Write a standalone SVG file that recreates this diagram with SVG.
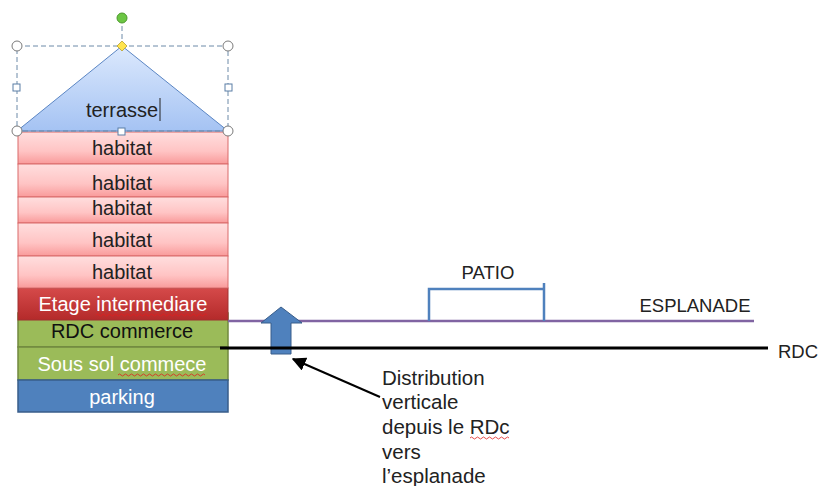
<svg xmlns="http://www.w3.org/2000/svg" width="818" height="486" viewBox="0 0 818 486">
<defs>
<linearGradient id="gTri" x1="0" y1="0" x2="0" y2="1"><stop offset="0" stop-color="#dce9fd"/><stop offset="1" stop-color="#a5c3f3"/></linearGradient>
<linearGradient id="gHab" x1="0" y1="0" x2="0" y2="1"><stop offset="0" stop-color="#ffdede"/><stop offset="0.6" stop-color="#ffc4c4"/><stop offset="1" stop-color="#f99a9a"/></linearGradient>
<linearGradient id="gEt" x1="0" y1="0" x2="0" y2="1"><stop offset="0" stop-color="#d54a4a"/><stop offset="1" stop-color="#b42a2a"/></linearGradient>
<marker id="ah" viewBox="0 0 10 10" refX="9" refY="5" markerWidth="7" markerHeight="7" orient="auto"><path d="M0,0 L10,5 L0,10 z" fill="#000"/></marker>
</defs>
<style>
text{font-family:"Liberation Sans",Arial,sans-serif;}
.lbl{font-size:20px;fill:#222;text-anchor:middle;}
.w{fill:#fff;}
.hab rect{fill:url(#gHab);stroke:#d96a6a;stroke-width:1;}
.grn rect{fill:#9bbb59;stroke:#71893f;stroke-width:1.5;}
.sel{fill:none;stroke:#6c8aa8;stroke-width:1;stroke-dasharray:5,3;}
.hc{fill:#fff;stroke:#7a7a7a;stroke-width:1;}
.hs{fill:#fff;stroke:#5b7ea6;stroke-width:1;}
.wavy{fill:none;stroke:#e02020;stroke-width:0.8;}
.note{font-size:20.5px;fill:#222;}
.cap{font-size:18.5px;fill:#222;}
</style>

<g id="rdc-commerce" class="grn"><rect x="18" y="313" width="210" height="34"/><text class="lbl" x="122" y="338" style="fill:#111">RDC commerce</text></g>
<g id="etage" ><rect x="18" y="288" width="210" height="32" fill="url(#gEt)" stroke="#a03030" stroke-width="1"/><text class="lbl w" x="123" y="311">Etage intermediare</text><path class="wavy" d="M96,315 q1.5,-2 3,0 t3,0 t3,0 t3,0 t3,0 t3,0 t3,0 t3,0 t3,0 t3,0 t3,0 t3,0 t3,0 t3,0 t3,0 t3,0 t3,0 t3,0 t3,0 t3,0 t3,0 t3,0 t3,0 t3,0 t3,0 t3,0 t3,0 t3,0 t3,0 t3,0 t3,0 t3,0 t3,0 t3,0 t3,0 t3,0 t3,0"/></g>
<g id="sous-sol" class="grn"><rect x="18" y="347" width="210" height="33"/><text class="lbl w" x="122" y="371">Sous sol commece</text><path class="wavy" d="M118,375 q1.5,-2 3,0 t3,0 t3,0 t3,0 t3,0 t3,0 t3,0 t3,0 t3,0 t3,0 t3,0 t3,0 t3,0 t3,0 t3,0 t3,0 t3,0 t3,0 t3,0 t3,0 t3,0 t3,0 t3,0 t3,0 t3,0 t3,0 t3,0 t3,0 t3,0"/></g>
<g id="parking"><rect x="18" y="380" width="210" height="32" fill="#4f81bd" stroke="#385d8a" stroke-width="1.5"/><text class="lbl w" x="122" y="404">parking</text></g>

<g id="habitat1" class="hab"><rect x="18" y="132" width="210" height="32"/><text class="lbl" x="122" y="155">habitat</text></g>
<g id="habitat2" class="hab"><rect x="18" y="164" width="210" height="33"/><text class="lbl" x="122" y="190">habitat</text></g>
<g id="habitat3" class="hab"><rect x="18" y="197" width="210" height="26"/><text class="lbl" x="122" y="215">habitat</text></g>
<g id="habitat4" class="hab"><rect x="18" y="223" width="210" height="33"/><text class="lbl" x="122" y="247">habitat</text></g>
<g id="habitat5" class="hab"><rect x="18" y="256" width="210" height="32"/><text class="lbl" x="122" y="279">habitat</text></g>

<g id="terrasse">
<polygon points="122,46 228,131 17,131" fill="url(#gTri)" stroke="#5b86c4" stroke-width="1"/>
<text class="lbl" x="122" y="117">terrasse</text>
<line x1="160" y1="98" x2="160" y2="121" stroke="#222" stroke-width="1"/>
<rect class="sel" x="17" y="46" width="211" height="85"/>
<line x1="122" y1="18" x2="122" y2="46" class="sel"/>
<circle cx="122" cy="18" r="5" fill="#6cc644" stroke="#4d9a2d" stroke-width="1"/>
<circle class="hc" cx="17" cy="46" r="5"/><circle class="hc" cx="228" cy="46" r="5"/>
<circle class="hc" cx="17" cy="131" r="5"/><circle class="hc" cx="228" cy="131" r="5"/>
<rect class="hs" x="13" y="84" width="7" height="7"/><rect class="hs" x="225" y="84" width="7" height="7"/>
<rect class="hs" x="118" y="128" width="7" height="7"/>
<polygon points="122,41 127,46 122,51 117,46" fill="#ffe44d" stroke="#b8a030" stroke-width="0.8"/>
</g>

<g id="connectors">
<line id="esplanade-line" x1="228" y1="321" x2="754" y2="321" stroke="#8064a2" stroke-width="2.5"/>
<path id="patio" d="M429,321 V289 H544 V321 M544,289 V283" fill="none" stroke="#4f81bd" stroke-width="2.5"/>
<polygon id="up-arrow" points="281,307 302,323 291,323 291,354 271,354 271,323 261,323" fill="#4f81bd" stroke="#385d8a" stroke-width="1"/>
<line id="rdc-line" x1="220" y1="348" x2="768" y2="348" stroke="#000" stroke-width="3"/>
<line id="pointer" x1="380" y1="397" x2="293" y2="359" stroke="#000" stroke-width="2" marker-end="url(#ah)"/>
</g>

<g id="labels">
<text id="patio-label" class="cap" x="488" y="279" text-anchor="middle">PATIO</text>
<text id="esplanade-label" class="cap" x="695" y="312" text-anchor="middle">ESPLANADE</text>
<text id="rdc-label" class="cap" x="778" y="358">RDC</text>
<g id="note">
<text class="note" x="382" y="385">Distribution</text>
<text class="note" x="382" y="409">verticale</text>
<text class="note" x="382" y="434">depuis le RDc</text>
<path class="wavy" d="M470,438 q1.5,-2 3,0 t3,0 t3,0 t3,0 t3,0 t3,0 t3,0 t3,0 t3,0 t3,0 t3,0 t3,0 t3,0"/>
<text class="note" x="382" y="459">vers</text>
<text class="note" x="382" y="483">l’esplanade</text>
</g>
</g>
</svg>
